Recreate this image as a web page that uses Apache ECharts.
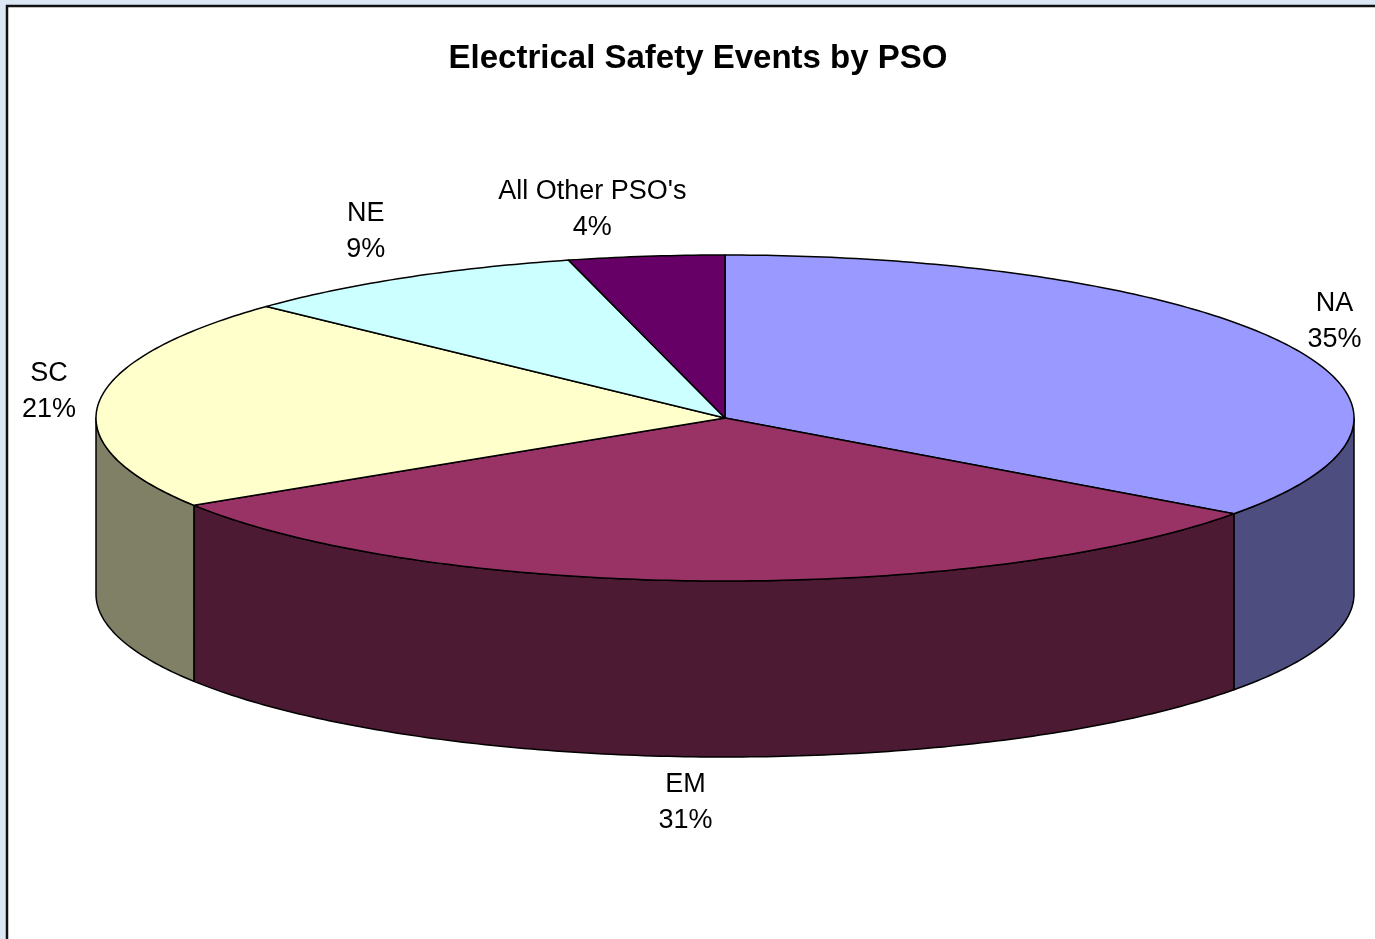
<!DOCTYPE html>
<html>
<head>
<meta charset="utf-8">
<script src="https://cdn.jsdelivr.net/npm/echarts@6/dist/echarts.min.js"></script>
<style>
html,body{margin:0;padding:0;background:#dbe7f4;}
#chart{width:1375px;height:939px;}
</style>
</head>
<body>
<div id="chart"></div>
<script>
// ---- data ----
const categories = ['NA', 'EM', 'SC', 'NE', "All Other PSO's"];
const values = [35, 31, 21, 9, 4];
const titleText = 'Electrical Safety Events by PSO';

// ---- styles ----
const topColors = ['#9999FF', '#993366', '#FFFFCC', '#CCFFFF', '#660066'];
const sideColors = ['#4D4D80', '#4D1A33', '#808066', '#668080', '#330033'];
const labelNudge = [[0, 0], [-18, -4], [5, -6], [-11, -3], [-47, 3]];

// ---- layout ----
const CX = 725, CY = 418, RX = 629, RY = 163, DEPTH = 176;
const LBL_DX = 55, LBL_DY = 50;

const total = values.reduce((a, b) => a + b, 0);

function pt(a, dy) {
  return [CX + RX * Math.sin(a), CY - RY * Math.cos(a) + (dy || 0)];
}
function arc(s, e, dy) {
  const n = Math.max(2, Math.ceil((e - s) / (Math.PI / 240)));
  const out = [];
  for (let k = 0; k <= n; k++) out.push(pt(s + (e - s) * k / n, dy));
  return out;
}

function renderItem(params, api) {
  const i = params.dataIndex;
  let start = 0;
  for (let j = 0; j < i; j++) start += values[j];
  const a0 = start / total * Math.PI * 2;
  const a1 = (start + values[i]) / total * Math.PI * 2;
  const children = [];
  // visible outer wall (front half)
  const s = Math.max(a0, Math.PI / 2), e = Math.min(a1, Math.PI * 1.5);
  if (s < e) {
    const pts = arc(s, e, 0).concat(arc(s, e, DEPTH).reverse());
    children.push({
      type: 'polygon',
      shape: { points: pts },
      style: { fill: sideColors[i], stroke: '#000', lineWidth: 1.5, lineJoin: 'round' }
    });
  }
  // top face
  children.push({
    type: 'polygon',
    shape: { points: [[CX, CY]].concat(arc(a0, a1, 0)) },
    style: { fill: topColors[i], stroke: '#000', lineWidth: 1.5, lineJoin: 'round' }
  });
  // label
  const m = (a0 + a1) / 2;
  const c = Math.cos(m);
  const lx = CX + (RX + LBL_DX) * Math.sin(m) + labelNudge[i][0];
  const ly = CY - (RY + LBL_DY) * c + (c < 0 ? -c * DEPTH : 0) + labelNudge[i][1];
  const pct = Math.round(values[i] / total * 100) + '%';
  children.push({
    type: 'text',
    z2: 10,
    style: {
      text: categories[i] + '\n' + pct,
      x: lx, y: ly,
      align: 'center', verticalAlign: 'middle',
      fontSize: 27, lineHeight: 36,
      fontFamily: '"Liberation Sans", Arial, sans-serif',
      fill: '#000'
    }
  });
  return { type: 'group', children: children };
}

const chart = echarts.init(document.getElementById('chart'), null, { renderer: 'canvas' });
chart.setOption({
  backgroundColor: '#dbe7f4',
  animation: false,
  title: {
    text: titleText,
    left: 698,
    top: 42,
    textAlign: 'center',
    padding: 0,
    textStyle: {
      fontSize: 33, fontWeight: 'bold', color: '#000',
      fontFamily: '"Liberation Sans", Arial, sans-serif'
    }
  },
  graphic: [{
    type: 'rect', z: 0, silent: true,
    shape: { x: 7, y: 6, width: 1400, height: 960 },
    style: { fill: '#ffffff', stroke: '#111', lineWidth: 2.5 }
  }],
  series: [{
    type: 'custom',
    coordinateSystem: 'none',
    silent: true,
    z: 2,
    renderItem: renderItem,
    data: values
  }]
});
</script>
</body>
</html>
